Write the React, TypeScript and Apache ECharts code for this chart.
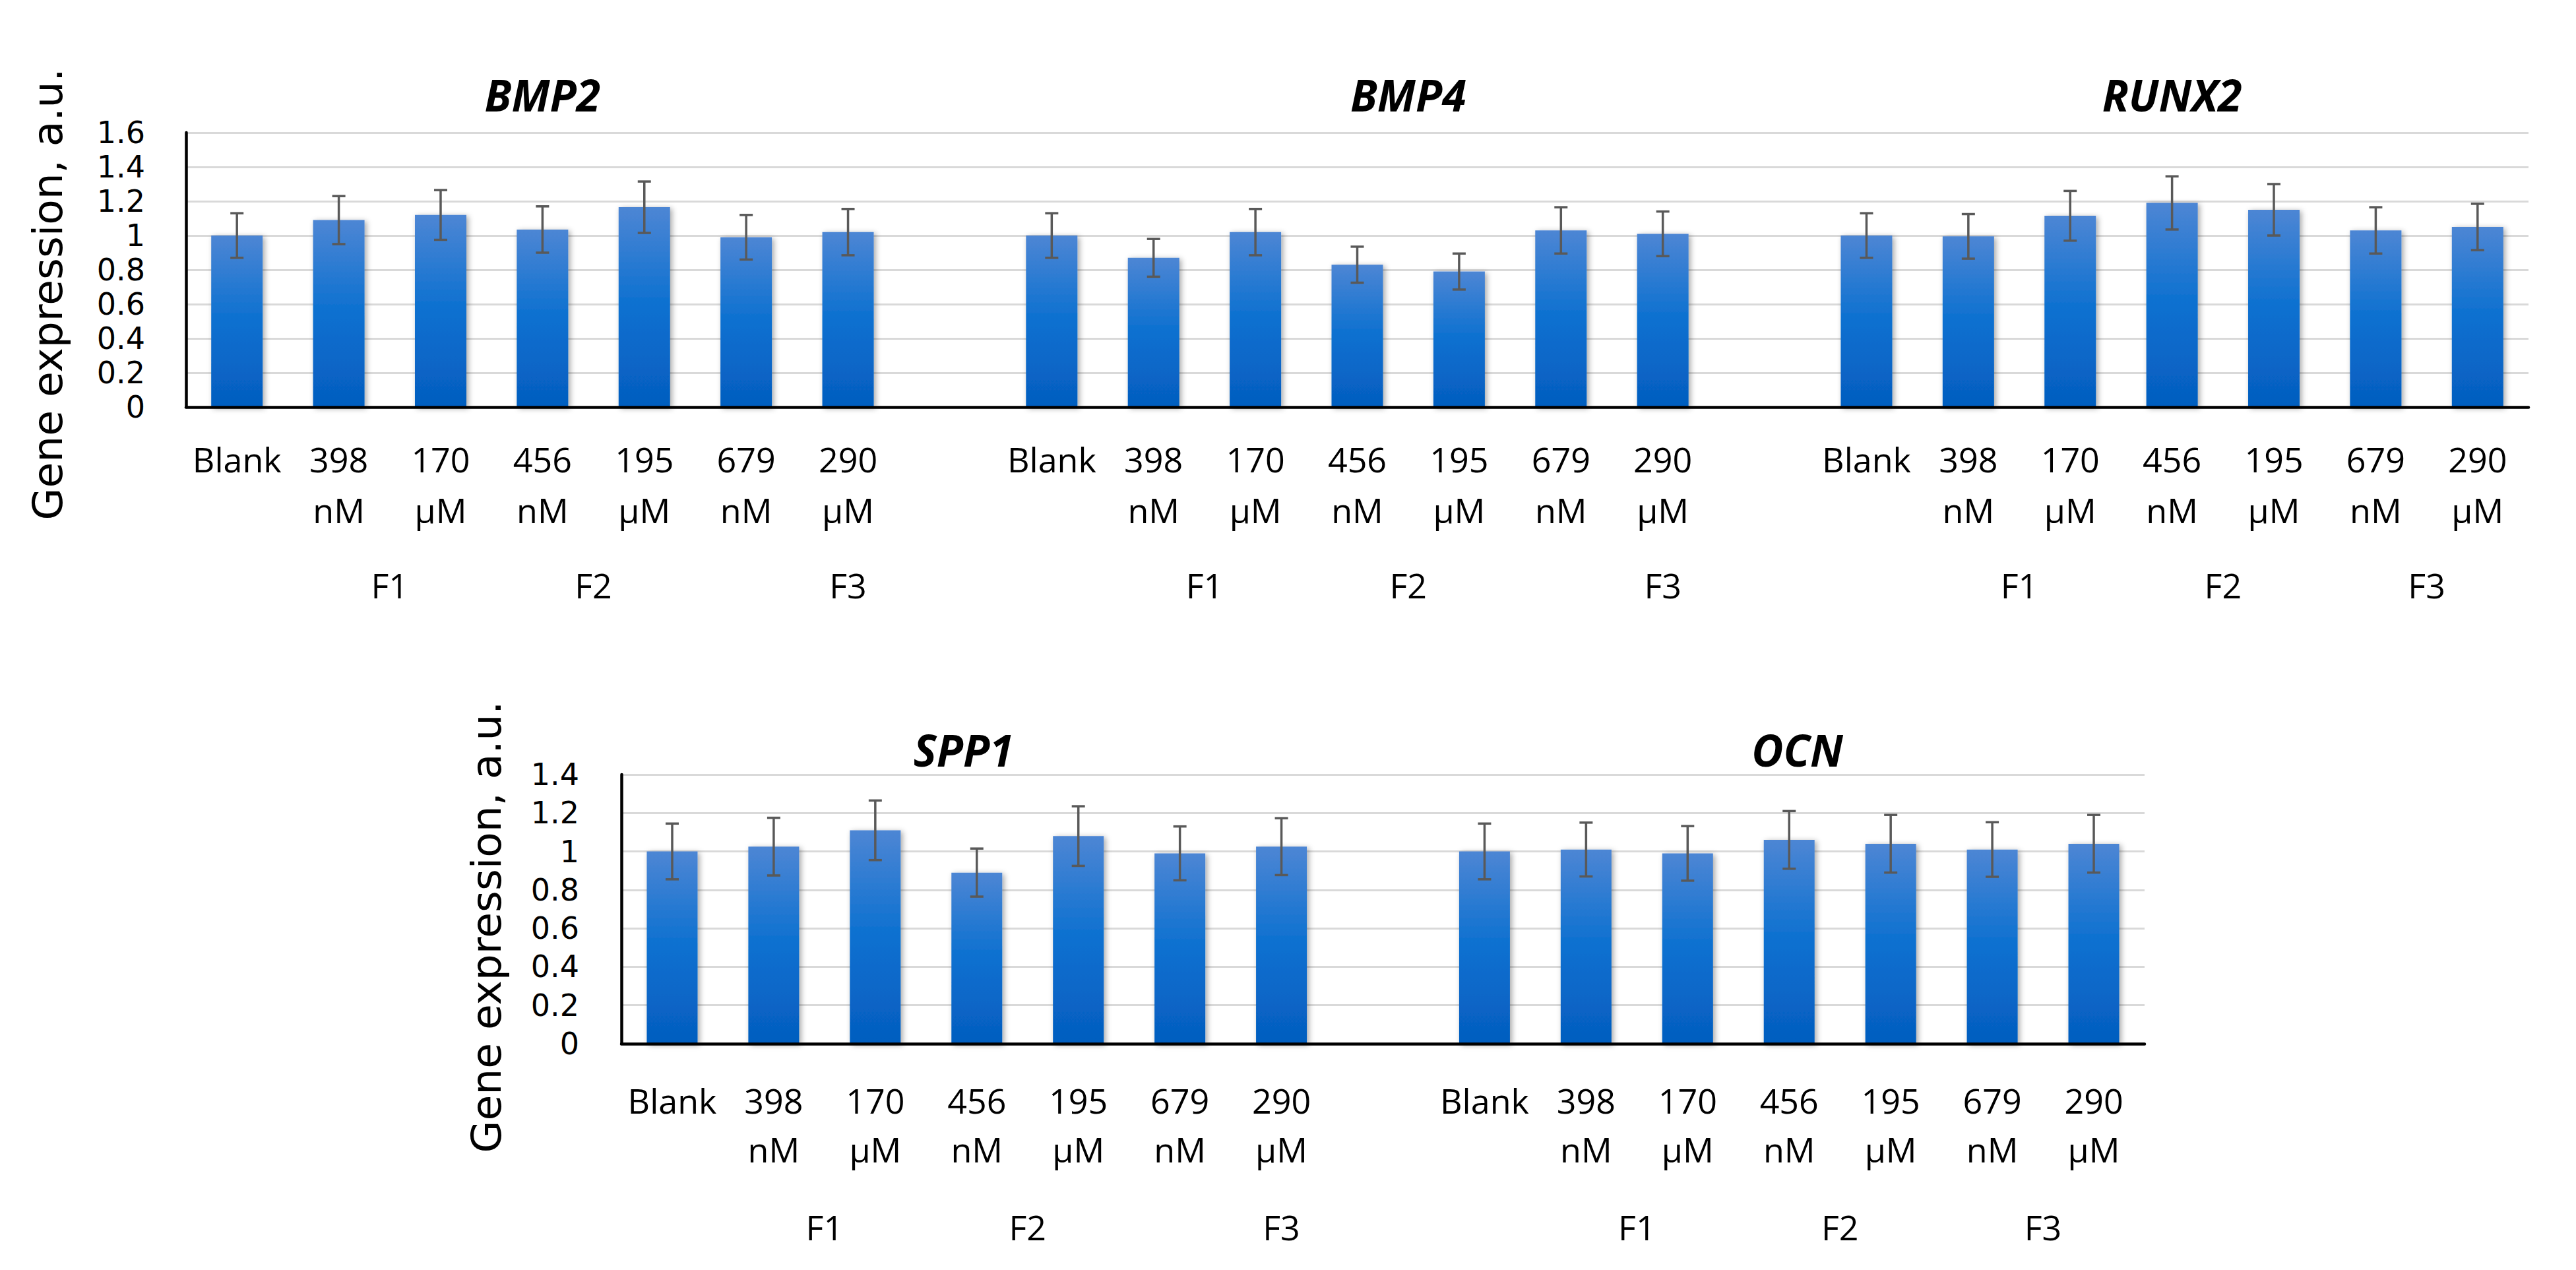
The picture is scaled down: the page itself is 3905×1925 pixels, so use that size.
import React, { useEffect, useRef } from 'react';
import * as echarts from 'echarts';

// ---------- data ----------
const GROUP_LABELS = ['Blank', '398\nnM', '170\nμM', '456\nnM', '195\nμM', '679\nnM', '290\nμM'];
const F_TEXT = ['F1', 'F2', 'F3'];

const TOP_GENES = ['BMP2', 'BMP4', 'RUNX2'];
const BOTTOM_GENES = ['SPP1', 'OCN'];

const BMP2 = [1.0, 1.09, 1.12, 1.035, 1.165, 0.99, 1.02];
const BMP2_ERR = [0.13, 0.14, 0.145, 0.135, 0.15, 0.13, 0.135];
const BMP4 = [1.0, 0.87, 1.02, 0.83, 0.79, 1.03, 1.01];
const BMP4_ERR = [0.13, 0.11, 0.135, 0.105, 0.105, 0.135, 0.13];
const RUNX2 = [1.0, 0.995, 1.115, 1.19, 1.15, 1.03, 1.05];
const RUNX2_ERR = [0.13, 0.13, 0.145, 0.155, 0.15, 0.135, 0.135];
const SPP1 = [1.0, 1.025, 1.11, 0.89, 1.08, 0.99, 1.025];
const SPP1_ERR = [0.145, 0.15, 0.155, 0.125, 0.155, 0.14, 0.148];
const OCN = [1.0, 1.01, 0.99, 1.06, 1.04, 1.01, 1.04];
const OCN_ERR = [0.145, 0.14, 0.142, 0.15, 0.15, 0.142, 0.15];

const TOP_Y_MAX = 1.6;
const BOTTOM_Y_MAX = 1.4;
const Y_STEP = 0.2;

// F-label positions along category index (group spans)
const TOP_F_POS = [1.5, 3.5, 6, 9.5, 11.5, 14, 17.5, 19.5, 21.5];
const BOTTOM_F_POS = [1.5, 3.5, 6, 9.5, 11.5, 13.5];
// title positions along category index
const TOP_TITLE_POS = [3, 11.5, 19];
const BOTTOM_TITLE_POS = [2.87, 11.08];

const Y_LABEL = 'Gene expression, a.u.';

// ---------- helpers ----------
function joinGroups<T>(groups: T[][], gap: T): T[] {
  const out: T[] = [];
  groups.forEach((g, i) => {
    if (i > 0) out.push(gap);
    out.push(...g);
  });
  return out;
}

function errData(vals: number[][], errs: number[][]) {
  const out: number[][] = [];
  let idx = 0;
  vals.forEach((g, gi) => {
    if (gi > 0) idx += 1;
    g.forEach((v, i) => {
      out.push([idx, v - errs[gi][i], v + errs[gi][i]]);
      idx += 1;
    });
  });
  return out;
}

const W = 3905;
const H = 1925;

const TOP_GRID = { left: 282, top: 201, width: 3551, height: 416 };
const BOT_GRID = { left: 942, top: 1174, width: 2309, height: 408 };

const BAR_GRADIENT = new echarts.graphic.LinearGradient(0, 0, 0, 1, [
  { offset: 0, color: '#4d86d4' },
  { offset: 0.5, color: '#0b70d0' },
  { offset: 1, color: '#055dbf' },
]);

const CAT_FONT = 'Open Sans';
const TICK_FONT = 'DejaVu Sans';

function App() {
  const ref = useRef<HTMLDivElement>(null);

  useEffect(() => {
    if (!ref.current) return;
    const chart = echarts.init(ref.current, null, { renderer: 'svg', width: W, height: H });

    const topCats = joinGroups([GROUP_LABELS, GROUP_LABELS, GROUP_LABELS], '');
    const botCats = joinGroups([GROUP_LABELS, GROUP_LABELS], '');
    const topVals = joinGroups<number | string>([BMP2, BMP4, RUNX2], '-');
    const botVals = joinGroups<number | string>([SPP1, OCN], '-');
    const topErr = errData([BMP2, BMP4, RUNX2], [BMP2_ERR, BMP4_ERR, RUNX2_ERR]);
    const botErr = errData([SPP1, OCN], [SPP1_ERR, OCN_ERR]);

    const fFormatter = (positions: number[]) => (v: number) => {
      const k = positions.findIndex((p) => Math.abs(p - v) < 1e-6);
      return k >= 0 ? F_TEXT[k % 3] : '';
    };

    const catAxis = (gridIndex: number, data: string[], margin: number, lh: number) => ({
      type: 'category',
      gridIndex,
      data,
      z: 10,
      position: 'bottom',
      boundaryGap: true,
      axisTick: { show: false },
      axisLine: { show: true, onZero: false, lineStyle: { color: '#000', width: 4.5 } },
      axisLabel: {
        interval: 0,
        margin,
        color: '#000',
        fontFamily: CAT_FONT,
        fontSize: 52,
        lineHeight: lh,
      },
      splitLine: { show: false },
    });

    const fAxis = (gridIndex: number, n: number, positions: number[], margin: number) => ({
      type: 'value',
      gridIndex,
      position: 'bottom',
      min: -0.5,
      max: n - 0.5,
      interval: 0.5,
      axisLine: { show: false, onZero: false },
      axisTick: { show: false },
      splitLine: { show: false },
      axisLabel: {
        margin,
        color: '#000',
        fontFamily: CAT_FONT,
        fontSize: 52,
        lineHeight: 52,
        showMinLabel: true,
        showMaxLabel: true,
        hideOverlap: false,
        formatter: fFormatter(positions),
      },
    });

    const valAxis = (gridIndex: number, max: number, margin: number) => ({
      type: 'value',
      gridIndex,
      position: 'left',
      min: 0,
      max,
      interval: Y_STEP,
      axisLine: { show: false, onZero: false },
      axisTick: { show: false },
      axisLabel: {
        margin,
        color: '#000',
        fontFamily: TICK_FONT,
        fontSize: 46,
        formatter: (v: number) => String(+v.toFixed(1)),
      },
      splitLine: { show: true, lineStyle: { color: '#d9d9d9', width: 3 } },
    });

    // overlay axis that only draws the black vertical axis line on top of the bars
    const lineAxis = (gridIndex: number, max: number) => ({
      type: 'value',
      gridIndex,
      position: 'left',
      offset: 0,
      min: 0,
      max,
      interval: Y_STEP,
      z: 10,
      axisLine: { show: true, onZero: false, lineStyle: { color: '#000', width: 4.5 } },
      axisTick: { show: false },
      axisLabel: { show: false },
      splitLine: { show: false },
    });

    const errSeries = (xAxisIndex: number, yAxisIndex: number, data: number[][]) => ({
      type: 'custom',
      xAxisIndex,
      yAxisIndex,
      z: 5,
      silent: true,
      encode: { x: 0, y: [1, 2] },
      data,
      renderItem: (params: any, api: any) => {
        const x = api.value(0);
        const lo = api.coord([x, api.value(1)]);
        const hi = api.coord([x, api.value(2)]);
        const cap = 10;
        const style = { stroke: '#595959', lineWidth: 3.5 };
        return {
          type: 'group',
          children: [
            { type: 'line', shape: { x1: lo[0], y1: lo[1], x2: hi[0], y2: hi[1] }, style },
            { type: 'line', shape: { x1: hi[0] - cap, y1: hi[1], x2: hi[0] + cap, y2: hi[1] }, style },
            { type: 'line', shape: { x1: lo[0] - cap, y1: lo[1], x2: lo[0] + cap, y2: lo[1] }, style },
          ],
        };
      },
    });

    const barSeries = (xAxisIndex: number, yAxisIndex: number, data: (number | string)[], bw: number) => ({
      type: 'bar',
      xAxisIndex,
      yAxisIndex,
      data,
      barWidth: bw,
      itemStyle: {
        color: BAR_GRADIENT,
        shadowColor: 'rgba(0,0,0,0.35)',
        shadowBlur: 8,
        shadowOffsetX: 3,
        shadowOffsetY: 2,
      },
    });

    const titlePos = (g: typeof TOP_GRID, n: number, idx: number) => g.left + ((idx + 0.5) * g.width) / n;

    const titleText = (text: string, x: number, y: number) => ({
      type: 'text',
      x,
      y,
      z: 10,
      style: {
        text,
        fill: '#000',
        fontFamily: CAT_FONT,
        fontSize: 66,
        fontWeight: 'bold',
        fontStyle: 'italic',
        align: 'center',
        verticalAlign: 'middle',
      },
    });

    const yLabelText = (x: number, y: number) => ({
      type: 'text',
      x,
      y,
      rotation: Math.PI / 2,
      z: 10,
      style: {
        text: Y_LABEL,
        fill: '#000',
        fontFamily: TICK_FONT,
        fontSize: 63,
        align: 'center',
        verticalAlign: 'middle',
      },
    });

    const nTop = topCats.length;
    const nBot = botCats.length;

    chart.setOption({
      animation: false,
      backgroundColor: '#fff',
      grid: [
        { ...TOP_GRID, containLabel: false },
        { ...BOT_GRID, containLabel: false },
      ],
      xAxis: [
        catAxis(0, topCats, 40, 77),
        fAxis(0, nTop, TOP_F_POS, 243),
        catAxis(1, botCats, 48, 74),
        fAxis(1, nBot, BOTTOM_F_POS, 251),
      ],
      yAxis: [
        valAxis(0, TOP_Y_MAX, 62),
        valAxis(1, BOTTOM_Y_MAX, 64),
        lineAxis(0, TOP_Y_MAX),
        lineAxis(1, BOTTOM_Y_MAX),
      ],
      series: [
        barSeries(0, 0, topVals, 78),
        errSeries(0, 0, topErr),
        barSeries(2, 1, botVals, 77),
        errSeries(2, 1, botErr),
      ],
      graphic: [
        ...TOP_GENES.map((g, i) => titleText(g, titlePos(TOP_GRID, nTop, TOP_TITLE_POS[i]), 143)),
        ...BOTTOM_GENES.map((g, i) => titleText(g, titlePos(BOT_GRID, nBot, BOTTOM_TITLE_POS[i]), 1136)),
        yLabelText(72, 446),
        yLabelText(737, 1405),
      ],
    });

    return () => chart.dispose();
  }, []);

  return (
    <div
      ref={ref}
      style={{ position: 'fixed', left: 0, top: 0, width: W, height: H, background: '#fff' }}
    />
  );
}

export default App;
